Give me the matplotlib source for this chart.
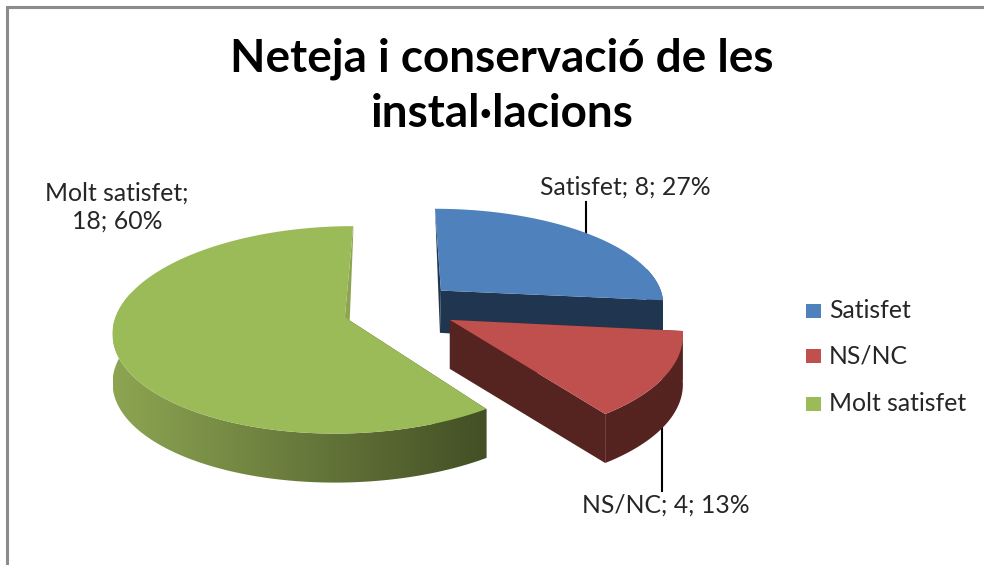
import numpy as np
import matplotlib
matplotlib.use('Agg')
import matplotlib.pyplot as plt
from matplotlib.colors import LinearSegmentedColormap
from matplotlib.patches import Polygon, Rectangle

title = 'Neteja i conservació de les\ninstal·lacions'
labels = ['Satisfet', 'NS/NC', 'Molt satisfet']
values = [8, 4, 18]
percents = [27, 13, 60]
top_colors = ['#4F81BD', '#C0504D', '#9BBB59']
side_start = ['#203650', '#552320', '#8DA552']
side_end = ['#203650', '#552320', '#434F25']

# projection of the flat pie to pixels
cx, cy = 401, 308
rx, ry = 232, 102
k = 0.12
explode = 0.23
depth = 49

# per slice tweaks so the perspective looks like the 3D one of the original
scale_x = [0.965, 0.98, 0.98]
scale_y = [0.93, 1.0, 0.985]
shift_x = [1, 2, -5]
shift_y = [-2, 0, 2]
skew = [-2, 0, 3]
lean = [-1, 0, 3]


def project(u, v):
  w = 1 + k * v
  return cx + rx * u / w, cy - ry * v / w


def thickness(v):
  return depth * (1 - 0.9 * np.clip(v, 0, None))


def draw_slice(ax, n, start, end, z):
  mid = (start + end) / 2
  ou, ov = explode * np.sin(mid), explode * np.cos(mid)
  t = np.linspace(start, end, 200)
  u, v = ou + np.sin(t), ov + np.cos(t)

  ax_x, ax_y = project(ou, ov)
  x, y = project(u, v)
  x = ax_x + (x - ax_x) * scale_x[n] + skew[n] * np.cos(t) + shift_x[n]
  y = ax_y + (y - ax_y) * scale_y[n] + shift_y[n]
  ax_x, ax_y = ax_x + shift_x[n], ax_y + shift_y[n]
  d = thickness(v)
  d0 = thickness(ov)

  # straight cut faces
  bottom = (ax_x + lean[n], ax_y + d0)
  ax.add_patch(Polygon([(ax_x, ax_y), (x[0], y[0]), (x[0], y[0] + d[0]), bottom],
                       fc=side_end[n], ec='none', zorder=z))
  ax.add_patch(Polygon([(ax_x, ax_y), (x[-1], y[-1]), (x[-1], y[-1] + d[-1]), bottom],
                       fc=side_start[n], ec='none', zorder=z))

  # outer wall, shaded from left to right
  front = np.cos(t) < 0.25
  xf, yf, df = x[front], y[front], d[front]
  wall = Polygon(np.column_stack([np.r_[xf, xf[::-1]], np.r_[yf, (yf + df)[::-1]]]),
                 fc='none', ec='none', transform=ax.transData)
  ax.add_patch(wall)
  cmap = LinearSegmentedColormap.from_list('wall', [side_start[n], side_end[n]])
  im = ax.imshow(np.linspace(0, 1, 256)[None, :], cmap=cmap, aspect='auto', zorder=z + 0.1,
                 extent=[xf.min(), xf.max(), (yf + df).max(), yf.min()])
  im.set_clip_path(wall)

  # top
  ax.add_patch(Polygon(np.column_stack([np.r_[ax_x, x], np.r_[ax_y, y]]),
                       fc=top_colors[n], ec='none', zorder=z + 0.2))


fig = plt.figure(figsize=(9.84, 5.65), dpi=100)
ax = fig.add_axes([0, 0, 1, 1])

# chart border, the right and bottom sides are cut off in the original
ax.plot([6.5, 6.5, 984], [565, 7, 7], color='#8C8C8C', lw=2.2, solid_joinstyle='miter', zorder=1)

ax.text(502, 86.5, title, ha='center', va='center', fontsize=33, fontweight='bold',
        color='black', family='Lato', linespacing=1.38, zorder=5)

total = sum(values)
bounds = np.r_[0, np.cumsum(values)] / total * 2 * np.pi

# leader lines are behind the pie
ax.plot([585.5, 585.5], [202, 236], color='black', lw=1.5, zorder=2)
ax.plot([662, 662], [420, 491], color='black', lw=1.5, zorder=2)

for z, i in enumerate([0, 2, 1]):
  draw_slice(ax, i, bounds[i], bounds[i + 1], 3 + z)

label_style = dict(fontsize=17.8, color='#262626', family='Lato', zorder=6)
ax.text(625, 187, f'{labels[0]}; {values[0]}; {percents[0]}%', ha='center', va='center', **label_style)
ax.text(666, 505, f'{labels[1]}; {values[1]}; {percents[1]}%', ha='center', va='center', **label_style)
ax.text(117, 207, f'{labels[2]};\n{values[2]}; {percents[2]}%', ha='center', va='center', linespacing=1.3, **label_style)

for i, y in enumerate([310.5, 356, 404]):
  ax.add_patch(Rectangle((806, y - 7), 15, 14, fc=top_colors[i], ec='none', zorder=6))
  ax.text(829, y - 0.5, labels[i], ha='left', va='center', **label_style)

ax.set_xlim(0, 984)
ax.set_ylim(565, 0)
ax.axis('off')

fig.savefig('out.png', dpi=100)
